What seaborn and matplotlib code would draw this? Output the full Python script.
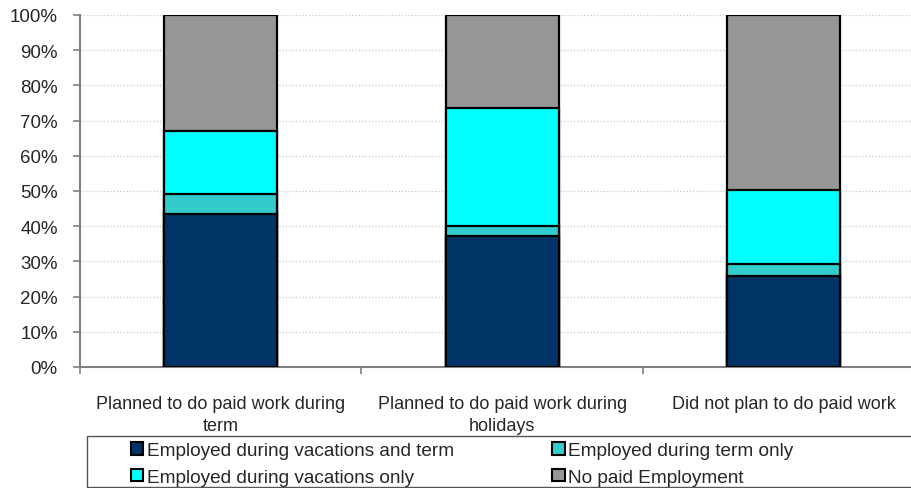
import numpy as np
import pandas as pd
import seaborn as sns
from matplotlib import pyplot as plt
from matplotlib.patches import Patch, Rectangle
from matplotlib.ticker import FuncFormatter

categories = ['Planned to do paid work during\nterm',
              'Planned to do paid work during\nholidays',
              'Did not plan to do paid work']
series = ['Employed during vacations and term', 'Employed during term only',
          'Employed during vacations only', 'No paid Employment']
vac_and_term = [43.5, 37.1, 25.9]
term_only = [5.6, 3.0, 3.4]
vac_only = [17.9, 33.6, 21.1]
no_paid = [33.0, 26.3, 49.6]
colors = ['#003366', '#33CCCC', '#00FFFF', '#969696']

sns.set_style('white')
plt.rcParams['font.family'] = ['Liberation Sans', 'DejaVu Sans']

df = pd.DataFrame({'cat': categories, series[0]: vac_and_term, series[1]: term_only,
                   series[2]: vac_only, series[3]: no_paid})
cum = df[series].cumsum(axis=1)

fig = plt.figure(figsize=(9.12, 4.89), dpi=100)
ax = fig.add_axes([80 / 912, 1 - 368 / 489, 844.5 / 912, 352 / 489])

# draw tallest stack first, then overlay the shorter cumulative ones
for i in range(len(series) - 1, -1, -1):
    sns.barplot(x=df['cat'], y=cum[series[i]], color=colors[i], width=0.4,
                edgecolor='black', linewidth=1.6, saturation=1, ax=ax, zorder=3)

ax.set_xlim(-0.5, 2.5)
ax.set_ylim(0, 100)
ax.set_yticks(np.arange(0, 101, 10))
ax.yaxis.set_major_formatter(FuncFormatter(lambda v, p: f'{v:.0f}%'))
ax.set_xlabel('')
ax.set_ylabel('')
ax.grid(axis='y', color='#c8c8c8', linestyle=':', linewidth=0.9, zorder=0)
ax.set_axisbelow(True)
for s in ['top', 'right']:
    ax.spines[s].set_visible(False)
for s in ['left', 'bottom']:
    ax.spines[s].set_color('#808080')
    ax.spines[s].set_linewidth(1.5)

ax.tick_params(axis='y', left=True, length=5, width=1.2, color='#808080',
               labelsize=13.5, pad=11)
ax.tick_params(axis='x', bottom=False, labelsize=13, pad=17)
ax.set_xticks([0, 1, 2])
ax.set_xticklabels(categories, linespacing=1.35)
ax.set_xticks([-0.5, 0.5, 1.5, 2.5], minor=True)
ax.tick_params(axis='x', which='minor', bottom=True, length=5, width=1.2, color='#808080')

handles = [Patch(facecolor=colors[i], edgecolor='black', linewidth=1.5) for i in [0, 2, 1, 3]]
labels = [series[i] for i in [0, 2, 1, 3]]
fig.legend(handles, labels, loc='upper left', bbox_to_anchor=(131 / 912, 1 - 443 / 489),
           ncol=2, frameon=False, fontsize=13.7, handlelength=0.65, handleheight=0.65,
           handletextpad=0.2, columnspacing=5.15, labelspacing=0.5, borderpad=0,
           borderaxespad=0)
fig.patches.append(Rectangle((87 / 912, 1 - 488 / 489), 830 / 912, 51 / 489,
                             transform=fig.transFigure, fill=False,
                             edgecolor='#555555', linewidth=1.0))

fig.savefig('out.png', dpi=100)
